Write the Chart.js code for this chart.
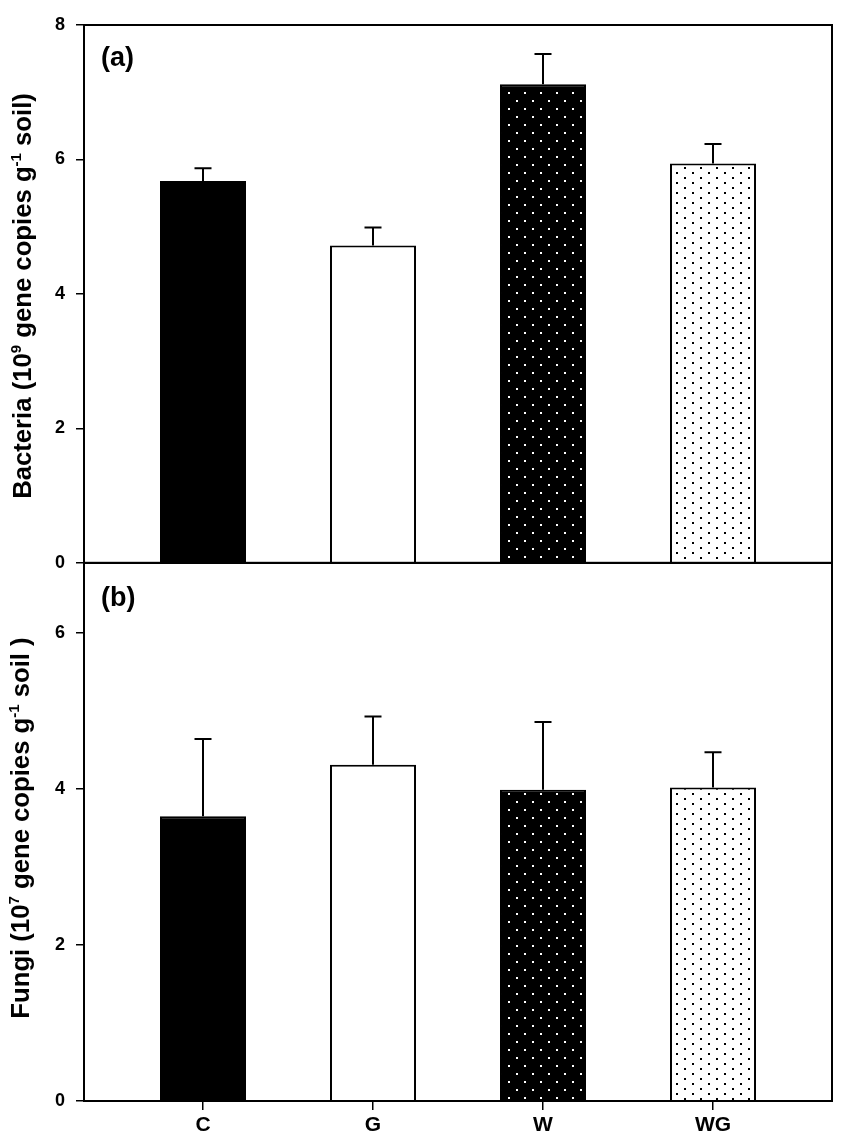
<!DOCTYPE html>
<html>
<head>
<meta charset="utf-8">
<script src="https://cdn.jsdelivr.net/npm/chart.js@4"></script>
<style>
  html, body { margin: 0; padding: 0; background: #fff; }
  #wrap { position: relative; width: 843px; height: 1145px; overflow: hidden; }
  canvas { position: absolute; left: 0; }
  #bacteria { top: 0; }
  #fungi { top: 541px; }
</style>
</head>
<body>
<div id="wrap">
  <canvas id="bacteria" width="843" height="585"></canvas>
  <canvas id="fungi" width="843" height="604"></canvas>
</div>
<script>
// data
var categories = ['C', 'G', 'W', 'WG'];
var bacteria = [5.68, 4.72, 7.12, 5.94];
var bacteriaErr = [0.19, 0.27, 0.45, 0.29];
var fungi = [3.65, 4.31, 3.99, 4.02];
var fungiErr = [0.99, 0.62, 0.87, 0.45];
var bacteriaTicks = [0, 2, 4, 6, 8];
var fungiTicks = [0, 2, 4, 6];

var FONT = '"Liberation Sans", Arial, sans-serif';

function dotPattern(ctx, bg, fg, w, h, dots) {
  var c = document.createElement('canvas');
  c.width = w; c.height = h;
  var g = c.getContext('2d');
  g.fillStyle = bg; g.fillRect(0, 0, w, h);
  g.fillStyle = fg;
  dots.forEach(function (d) { g.fillRect(d[0], d[1], 2, 2); });
  return ctx.createPattern(c, 'repeat');
}

// error bars (upper only), frame, panel letter, y title with superscripts
var decorations = {
  id: 'decorations',
  afterDatasetsDraw: function (chart, args, opts) {
    var ctx = chart.ctx, ys = chart.scales.y;
    var meta = chart.getDatasetMeta(0);
    var data = chart.data.datasets[0].data;
    ctx.save();
    ctx.strokeStyle = '#000';
    ctx.lineWidth = 2;
    meta.data.forEach(function (bar, i) {
      var top = ys.getPixelForValue(data[i].y + opts.errors[i]);
      ctx.beginPath();
      ctx.moveTo(bar.x, bar.y);
      ctx.lineTo(bar.x, top);
      ctx.moveTo(bar.x - 8.5, top);
      ctx.lineTo(bar.x + 8.5, top);
      ctx.stroke();
    });
    ctx.restore();
  },
  afterDraw: function (chart, args, opts) {
    var ctx = chart.ctx, a = chart.chartArea;
    ctx.save();
    ctx.strokeStyle = '#000';
    ctx.lineWidth = 2;
    ctx.strokeRect(a.left, a.top, a.right - a.left, a.bottom - a.top);

    ctx.fillStyle = '#000';
    ctx.font = 'bold 27px ' + FONT;
    ctx.textBaseline = 'alphabetic';
    ctx.textAlign = 'left';
    ctx.fillText(opts.letter, 101, opts.letterY);

    // rotated axis title
    var parts = opts.title;
    var total = 0;
    parts.forEach(function (p) {
      ctx.font = (p.sup ? 'bold 15px ' : 'bold 25.7px ') + FONT;
      p.w = ctx.measureText(p.t).width;
      total += p.w;
    });
    ctx.translate(opts.titleX, opts.titleY);
    ctx.rotate(-Math.PI / 2);
    var x = -total / 2;
    parts.forEach(function (p) {
      ctx.font = (p.sup ? 'bold 15px ' : 'bold 25.7px ') + FONT;
      ctx.fillText(p.t, x, p.sup ? -10 : 0);
      x += p.w;
    });
    ctx.restore();
  }
};

function makeChart(id, values, errs, ticks, yMax, showX, pad, deco) {
  var canvas = document.getElementById(id);
  var ctx = canvas.getContext('2d');
  var fills = [
    '#000',
    '#fff',
    dotPattern(ctx, '#000', '#fff', 16, 16, [[4, 4], [12, 12]]),
    dotPattern(ctx, '#fff', '#000', 16, 10, [[4, 2], [12, 7]])
  ];
  return new Chart(canvas, {
    type: 'bar',
    data: {
      datasets: [{
        data: values.map(function (v, i) { return { x: i, y: v }; }),
        backgroundColor: fills,
        borderColor: '#000',
        borderWidth: 2,
        barPercentage: 1,
        categoryPercentage: 0.506
      }]
    },
    options: {
      responsive: false,
      animation: false,
      events: [],
      layout: { padding: pad },
      plugins: {
        legend: { display: false },
        tooltip: { enabled: false },
        decorations: Object.assign({ errors: errs }, deco)
      },
      scales: {
        x: {
          type: 'linear',
          min: -0.7,
          max: 3.7,
          offset: false,
          display: showX,
          afterBuildTicks: function (s) {
            s.ticks = categories.map(function (c, i) { return { value: i }; });
          },
          afterFit: function (s) { if (s.options.display) s.height = 44; },
          ticks: {
            callback: function (v) { return categories[v]; },
            font: { family: FONT, weight: 'bold', size: 21 },
            color: '#000',
            padding: 3,
            autoSkip: false,
            maxRotation: 0
          },
          grid: { display: true, offset: false, drawOnChartArea: false, drawTicks: true, tickLength: 9, color: '#000', lineWidth: 1.5 },
          border: { display: false }
        },
        y: {
          min: 0,
          max: yMax,
          afterBuildTicks: function (s) {
            s.ticks = ticks.map(function (v) { return { value: v }; });
          },
          afterFit: function (s) { s.width = 84; },
          ticks: {
            font: { family: FONT, weight: 'bold', size: 18 },
            color: '#000',
            padding: 11
          },
          grid: { display: true, drawOnChartArea: false, drawTicks: true, tickLength: 8, color: '#000', lineWidth: 1.5 },
          border: { display: false }
        }
      }
    },
    plugins: [decorations]
  });
}

makeChart('bacteria', bacteria, bacteriaErr, bacteriaTicks, 8, false,
  { top: 25, right: 11, bottom: 22, left: 0 },
  {
    letter: '(a)', letterY: 66, titleX: 31, titleY: 296,
    title: [{ t: 'Bacteria (10' }, { t: '9', sup: true }, { t: ' gene copies g' }, { t: '-1', sup: true }, { t: ' soil)' }]
  });

makeChart('fungi', fungi, fungiErr, fungiTicks, 6.9, true,
  { top: 20, right: 11, bottom: 0, left: 0 },
  {
    letter: '(b)', letterY: 65, titleX: 29, titleY: 287,
    title: [{ t: 'Fungi (10' }, { t: '7', sup: true }, { t: ' gene copies g' }, { t: '-1', sup: true }, { t: ' soil )' }]
  });
</script>
</body>
</html>
